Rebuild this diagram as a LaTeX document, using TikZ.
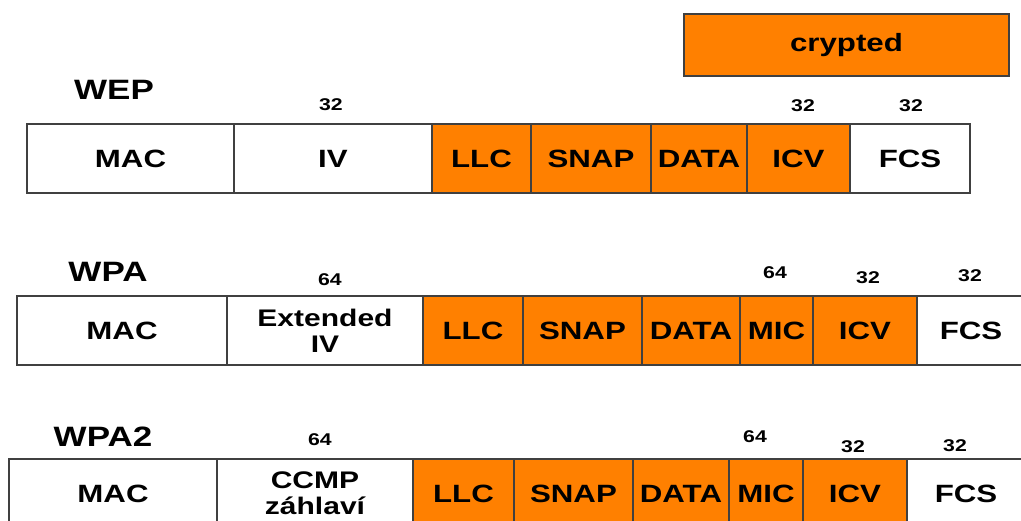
\documentclass[tikz,border=0pt]{standalone}
\usepackage{fontspec}
\setmainfont{Liberation Sans}[FakeStretch=1.25]
\usepackage{tikz}
\usetikzlibrary{positioning}
\definecolor{encorange}{RGB}{255,128,0}
\newcommand\fldfont{\fontsize{25}{26}\selectfont\bfseries}
\newcommand\twofont{\fontsize{24}{26}\selectfont\bfseries}
\newcommand\bitsfont{\fontsize{17}{17}\selectfont\bfseries}
\newcommand\ttlfont{\fontsize{28}{28}\selectfont\bfseries}

\begin{document}
\begin{tikzpicture}[x=1pt, y=-1pt,
    fld/.style={draw=black!75, line width=1.2pt, minimum height=69pt, inner sep=0pt,
                outer sep=0pt, font=\fldfont, align=center},
    enc/.style={fld, fill=encorange},
    bits/.style={font=\bitsfont},
    ttl/.style={font=\ttlfont}
  ]
    \useasboundingbox (0,0) rectangle (1021,521);
    % crypted part
    \node[enc, anchor=north west, minimum width=325pt, minimum height=62pt] (crypt) at (684,14) {crypted};
    % WEP
    \node[ttl] (weptitle) at (114,90) {WEP};
    \node[fld, anchor=west, minimum width=207pt] (wepmac) at (27,158.5) {MAC};
    \node[fld, minimum width=198pt, right=0pt of wepmac] (wepiv) {IV};
    \node[enc, minimum width=99pt, right=0pt of wepiv] (wepllc) {LLC};
    \node[enc, minimum width=120pt, right=0pt of wepllc] (wepsnap) {SNAP};
    \node[enc, minimum width=96pt, right=0pt of wepsnap] (wepdata) {DATA};
    \node[enc, minimum width=103pt, right=0pt of wepdata] (wepicv) {ICV};
    \node[fld, minimum width=120pt, right=0pt of wepicv] (wepfcs) {FCS};
    \node[bits] (wepivlen) at (331,105) {32};
    \node[bits] (wepicvlen) at (803,106) {32};
    \node[bits] (wepfcslen) at (911,106) {32};
    % WPA
    \node[ttl] (wpatitle) at (108,272) {WPA};
    \node[fld, anchor=west, minimum width=210pt] (wpamac) at (17,330.5) {MAC};
    \node[fld, font=\twofont, minimum width=196pt, right=0pt of wpamac] (wpaiv) {Extended\\IV};
    \node[enc, minimum width=100pt, right=0pt of wpaiv] (wpallc) {LLC};
    \node[enc, minimum width=119pt, right=0pt of wpallc] (wpasnap) {SNAP};
    \node[enc, minimum width=98pt, right=0pt of wpasnap] (wpadata) {DATA};
    \node[enc, minimum width=73pt, right=0pt of wpadata] (wpamic) {MIC};
    \node[enc, minimum width=104pt, right=0pt of wpamic] (wpaicv) {ICV};
    \node[fld, minimum width=108pt, right=0pt of wpaicv] (wpafcs) {FCS};
    \node[bits] (wpaivlen) at (330,280) {64};
    \node[bits] (wpamiclen) at (775,273) {64};
    \node[bits] (wpaicvlen) at (868,278) {32};
    \node[bits] (wpafcslen) at (970,276) {32};
    % WPA2
    \node[ttl] (wpatwotitle) at (103,437) {WPA2};
    \node[fld, anchor=west, minimum width=208pt] (wpatwomac) at (9,493.5) {MAC};
    \node[fld, font=\twofont, minimum width=196pt, right=0pt of wpatwomac] (wpatwoccmp) {CCMP\\záhlaví};
    \node[enc, minimum width=101pt, right=0pt of wpatwoccmp] (wpatwollc) {LLC};
    \node[enc, minimum width=119pt, right=0pt of wpatwollc] (wpatwosnap) {SNAP};
    \node[enc, minimum width=96pt, right=0pt of wpatwosnap] (wpatwodata) {DATA};
    \node[enc, minimum width=74pt, right=0pt of wpatwodata] (wpatwomic) {MIC};
    \node[enc, minimum width=104pt, right=0pt of wpatwomic] (wpatwoicv) {ICV};
    \node[fld, minimum width=118pt, right=0pt of wpatwoicv] (wpatwofcs) {FCS};
    \node[bits] (wpatwoccmplen) at (320,440) {64};
    \node[bits] (wpatwomiclen) at (755,437) {64};
    \node[bits] (wpatwoicvlen) at (853,447) {32};
    \node[bits] (wpatwofcslen) at (955,446) {32};
  \end{tikzpicture}
\end{document}
